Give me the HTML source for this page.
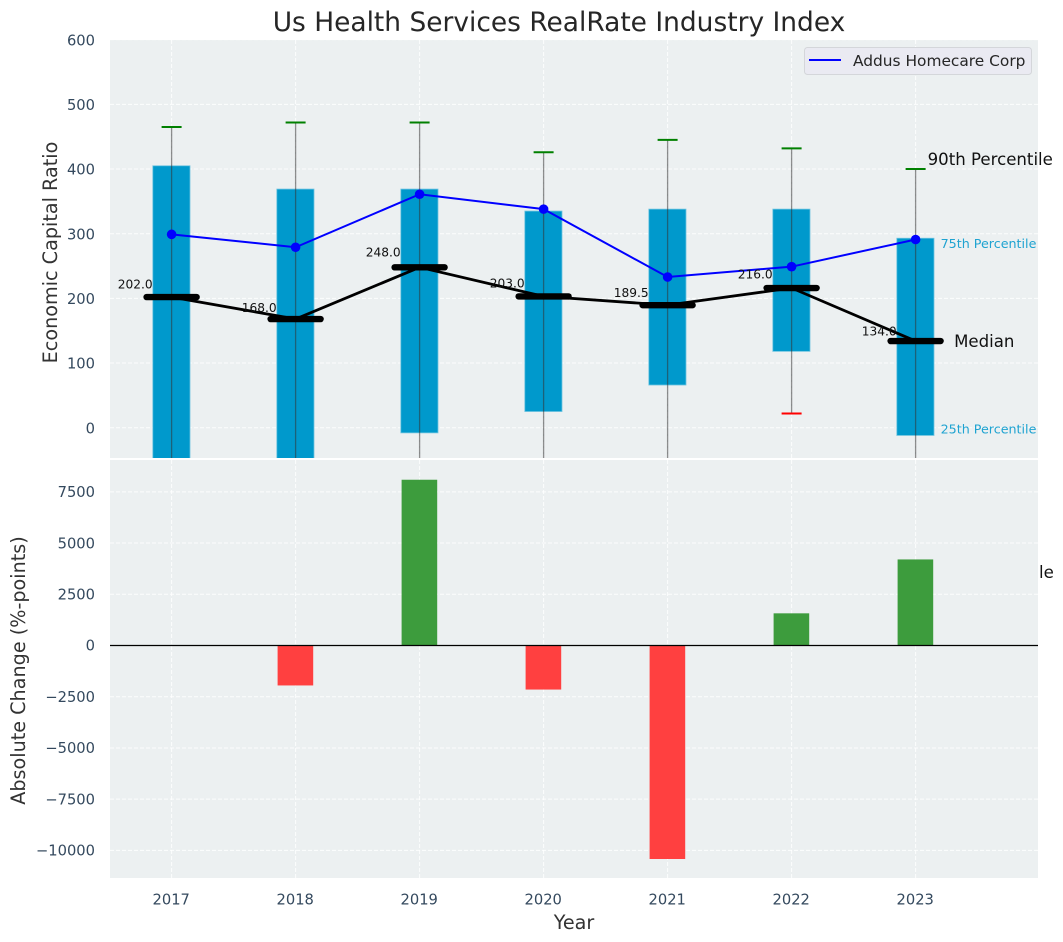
<!DOCTYPE html>
<html lang="en">
<head>
<meta charset="utf-8">
<title>Us Health Services RealRate Industry Index</title>
<style>
html,body{margin:0;padding:0;background:#fff;width:1063px;height:942px;overflow:hidden}
svg{display:block;font-family:"DejaVu Sans","Liberation Sans",sans-serif}
</style>
</head>
<body>
<svg id="chart" xmlns="http://www.w3.org/2000/svg" width="1063" height="942" viewBox="0 0 1063 942">
<defs>
<clipPath id="top-clip"><rect x="110" y="40" width="928" height="418"/></clipPath>
<clipPath id="bottom-clip"><rect x="110" y="460" width="928" height="418"/></clipPath>
</defs>
<text x="559" y="31" text-anchor="middle" font-size="26.45" fill="#262626">Us Health Services RealRate Industry Index</text>
<rect x="110" y="40" width="928" height="418" fill="#ecf0f1"/>
<g id="top-grid"></g>
<g id="top-marks" clip-path="url(#top-clip)"></g>
<g id="top-notes"></g>
<text x="928.5" y="578" font-size="16.6" fill="#111">10th Percentile</text>
<rect x="110" y="460" width="928" height="418" fill="#ecf0f1"/>
<g id="bottom-grid"></g>
<g id="bottom-marks" clip-path="url(#bottom-clip)"></g>
<g id="ticks" font-size="14.7" fill="#34495e"></g>
<text transform="translate(57,252.5) rotate(-90)" text-anchor="middle" font-size="19.2" fill="#333">Economic Capital Ratio</text>
<text transform="translate(25,670.5) rotate(-90)" text-anchor="middle" font-size="19.2" fill="#333">Absolute Change (%-points)</text>
<text x="574" y="929" text-anchor="middle" font-size="19.2" fill="#333">Year</text>
<g>
<rect x="804.5" y="47.5" width="227" height="27" rx="3" fill="#eaeaf2" stroke="#d4d6da" stroke-width="1"/>
<line x1="809" y1="60" x2="841" y2="60" stroke="#0000ff" stroke-width="2"/>
<text x="853" y="66" font-size="15.4" fill="#262626">Addus Homecare Corp</text>
</g>
</svg>
<script>
const years = [2017, 2018, 2019, 2020, 2021, 2022, 2023];
const p90 = [465, 472, 472, 426, 445, 432, 400];
const p75 = [405, 369, 369, 335, 338, 338, 293];
const medians = [202, 168, 248, 203, 189.5, 216, 134];
const p25 = [-60, -60, -8, 25, 66, 118, -12];
const p10 = [-120, -120, -120, -120, -120, 22, -120];
const company = [299, 279, 361, 338, 233, 249, 291];
const changes = [0, -1950, 8090, -2150, -10420, 1570, 4200];
const topTicks = [0, 100, 200, 300, 400, 500, 600];
const bottomTicks = [-10000, -7500, -5000, -2500, 0, 2500, 5000, 7500];

const NS = 'http://www.w3.org/2000/svg';
const xPos = v => 171.6 + 124.0 * (v - 2017);
const yTop = v => 427.7 - 0.6467 * v;
const yBot = v => 645.5 - 0.02049 * v;
const fmtTick = v => (v < 0 ? '\u2212' + Math.abs(v) : String(v));

function make(parent, tag, attrs, text) {
  const el = document.createElementNS(NS, tag);
  for (const k in attrs) el.setAttribute(k, attrs[k]);
  if (text !== undefined) el.textContent = text;
  parent.appendChild(el);
  return el;
}

const topGrid = document.getElementById('top-grid');
const bottomGrid = document.getElementById('bottom-grid');
const topMarks = document.getElementById('top-marks');
const bottomMarks = document.getElementById('bottom-marks');
const topNotes = document.getElementById('top-notes');
const tickGroup = document.getElementById('ticks');
const gridStyle = { stroke: '#ffffff', 'stroke-width': 1, 'stroke-dasharray': '4 2', 'stroke-opacity': 0.85 };

topTicks.forEach(t => {
  const g = make(topGrid, 'line', Object.assign({ x1: 110, x2: 1038, y1: yTop(t), y2: yTop(t) }, gridStyle));
  
  
  const l = make(tickGroup, 'text', { x: 95, y: yTop(t) + 5.7, 'text-anchor': 'end' }, fmtTick(t));
  
  
});
bottomTicks.forEach(t => {
  const g = make(bottomGrid, 'line', Object.assign({ x1: 110, x2: 1038, y1: yBot(t), y2: yBot(t) }, gridStyle));
  
  
  const l = make(tickGroup, 'text', { x: 95, y: yBot(t) + 5.2, 'text-anchor': 'end' }, fmtTick(t));
  
  
});
years.forEach(y => {
  const a = make(topGrid, 'line', Object.assign({ x1: xPos(y), x2: xPos(y), y1: 40, y2: 458 }, gridStyle));
  
  
  const b = make(bottomGrid, 'line', Object.assign({ x1: xPos(y), x2: xPos(y), y1: 460, y2: 878 }, gridStyle));
  
  
  const l = make(tickGroup, 'text', { x: xPos(y) - 0.4, y: 904.6, 'text-anchor': 'middle' }, String(y));
  
  
});

years.forEach((y, i) => {
  const cx = xPos(y);
  const top = yTop(p75[i]);
  const box = make(topMarks, 'rect', { x: cx - 18.8, y: top, width: 37.2, height: yTop(p25[i]) - top, fill: '#0099cc', stroke: '#6fc4e0', 'stroke-width': 0.8 });
  
  
  const w = make(topMarks, 'line', { x1: cx, x2: cx, y1: yTop(p90[i]), y2: yTop(p10[i]), stroke: '#333', 'stroke-opacity': 0.55, 'stroke-width': 1.3 });
  
  
  const capHigh = make(topMarks, 'line', { x1: cx - 10, x2: cx + 10, y1: yTop(p90[i]), y2: yTop(p90[i]), stroke: '#008000', 'stroke-width': 2 });
  
  
  const capLow = make(topMarks, 'line', { x1: cx - 10, x2: cx + 10, y1: yTop(p10[i]), y2: yTop(p10[i]), stroke: '#ff0000', 'stroke-width': 2 });
  
  
});

const medianLine = make(topMarks, 'polyline', {
  points: years.map((y, i) => xPos(y) + ',' + yTop(medians[i])).join(' '),
  fill: 'none', stroke: '#000', 'stroke-width': 2.8
});



years.forEach((y, i) => {
  const m = make(topMarks, 'line', { x1: xPos(y) - 25, x2: xPos(y) + 25, y1: yTop(medians[i]), y2: yTop(medians[i]), stroke: '#000', 'stroke-width': 6.4, 'stroke-linecap': 'round' });
  
  
});

const companyLine = make(topMarks, 'polyline', {
  points: years.map((y, i) => xPos(y) + ',' + yTop(company[i])).join(' '),
  fill: 'none', stroke: '#0000ff', 'stroke-width': 2
});



years.forEach((y, i) => {
  const c = make(topMarks, 'circle', { cx: xPos(y), cy: yTop(company[i]), r: 4.8, fill: '#0000ff' });
  
  
  const t = make(topNotes, 'text', { x: xPos(y) - 19, y: yTop(medians[i] * 1.07) + 0.4, 'text-anchor': 'end', 'font-size': 12.2, fill: '#111' }, medians[i].toFixed(1));
  
  
});

const last = years.length - 1;
const lastX = xPos(years[last]);
const n90 = make(topNotes, 'text', { x: lastX + 12, y: yTop(p90[last]) - 4, 'font-size': 16.6, fill: '#111' }, '90th Percentile');


const n75 = make(topNotes, 'text', { x: lastX + 25, y: yTop(p75[last]) + 10, 'font-size': 12.7, fill: '#1fa3d1' }, '75th Percentile');


const nMed = make(topNotes, 'text', { x: lastX + 38.5, y: yTop(medians[last]) + 6, 'font-size': 16.6, fill: '#111' }, 'Median');


const n25 = make(topNotes, 'text', { x: lastX + 25, y: yTop(p25[last]) - 2, 'font-size': 12.7, fill: '#1fa3d1' }, '25th Percentile');



years.forEach((y, i) => {
  const v = changes[i];
  if (!v) return;
  const a = yBot(Math.max(v, 0));
  const b = yBot(Math.min(v, 0));
  const bar = make(bottomMarks, 'rect', { x: xPos(y) - 18, y: a, width: 35.6, height: b - a, fill: v > 0 ? '#3d9c3d' : '#ff4040' });
  
  
});
const zero = make(bottomMarks, 'line', { x1: 110, x2: 1038, y1: yBot(0), y2: yBot(0), stroke: '#000', 'stroke-width': 1.2 });


</script>
</body>
</html>
